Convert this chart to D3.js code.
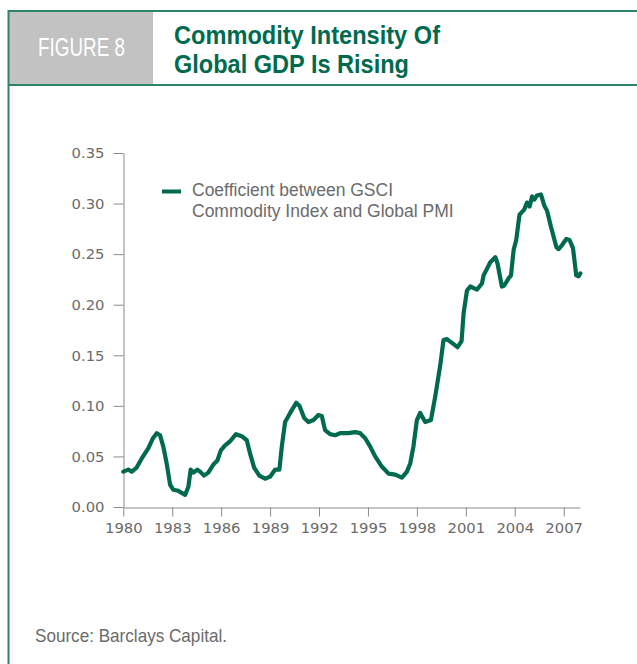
<!DOCTYPE html>
<html>
<head>
<meta charset="utf-8">
<script src="https://cdn.jsdelivr.net/npm/d3@7"></script>
<style>
  html, body { margin: 0; padding: 0; background: #fff; }
  svg { display: block; }
</style>
</head>
<body>
<svg id="chart" width="637" height="664"></svg>
<script>
// Coefficient between GSCI Commodity Index and Global PMI, 1980–2008
const years = [
  1980.00, 1980.31, 1980.52, 1980.82, 1981.13, 1981.53, 1981.82, 1982.05, 1982.25, 1982.45,
  1982.66, 1982.87, 1983.07, 1983.37, 1983.58, 1983.79, 1983.99, 1984.13, 1984.29, 1984.54,
  1984.71, 1984.95, 1985.21, 1985.52, 1985.77, 1985.98, 1986.24, 1986.55, 1986.91, 1987.26,
  1987.57, 1987.77, 1988.02, 1988.34, 1988.69, 1989.00, 1989.31, 1989.57, 1989.72, 1989.92,
  1990.23, 1990.60, 1990.80, 1991.09, 1991.35, 1991.66, 1991.96, 1992.17, 1992.37, 1992.68,
  1992.99, 1993.30, 1993.80, 1994.21, 1994.52, 1994.83, 1995.13, 1995.44, 1995.85, 1996.26,
  1996.67, 1997.08, 1997.39, 1997.59, 1997.79, 1998.00, 1998.20, 1998.51, 1998.86, 1999.12,
  1999.43, 1999.63, 1999.84, 2000.25, 2000.49, 2000.74, 2000.86, 2001.07, 2001.27, 2001.68,
  2001.99, 2002.09, 2002.50, 2002.81, 2002.94, 2003.21, 2003.36, 2003.62, 2003.77, 2003.93,
  2004.09, 2004.29, 2004.58, 2004.75, 2004.91, 2005.06, 2005.20, 2005.36, 2005.61, 2005.81,
  2005.98, 2006.22, 2006.55, 2006.69, 2006.90, 2007.16, 2007.36, 2007.57, 2007.77, 2007.91,
  2008.02
];
const coefficient = [
  0.035, 0.037, 0.035, 0.039, 0.048, 0.058, 0.068, 0.073, 0.071, 0.060,
  0.043, 0.022, 0.017, 0.016, 0.014, 0.012, 0.020, 0.037, 0.034, 0.037,
  0.035, 0.031, 0.034, 0.042, 0.046, 0.056, 0.061, 0.065, 0.072, 0.070,
  0.066, 0.053, 0.039, 0.031, 0.028, 0.030, 0.037, 0.037, 0.060, 0.084,
  0.093, 0.103, 0.100, 0.088, 0.084, 0.086, 0.091, 0.090, 0.076, 0.072,
  0.071, 0.073, 0.073, 0.074, 0.073, 0.068, 0.060, 0.050, 0.040, 0.033,
  0.032, 0.029, 0.035, 0.043, 0.060, 0.086, 0.093, 0.084, 0.086, 0.109,
  0.140, 0.165, 0.166, 0.161, 0.158, 0.164, 0.191, 0.214, 0.218, 0.215,
  0.221, 0.229, 0.242, 0.247, 0.241, 0.218, 0.219, 0.226, 0.229, 0.254,
  0.264, 0.289, 0.294, 0.301, 0.297, 0.307, 0.304, 0.308, 0.309, 0.298,
  0.293, 0.277, 0.257, 0.255, 0.259, 0.265, 0.264, 0.256, 0.229, 0.228,
  0.231
];
const yTicks = [0, 0.05, 0.10, 0.15, 0.20, 0.25, 0.30, 0.35];
const xTicks = [1980, 1983, 1986, 1989, 1992, 1995, 1998, 2001, 2004, 2007];
const titleLines = ["Commodity Intensity Of", "Global GDP Is Rising"];
const figureLabel = "FIGURE 8";
const legendLines = ["Coefficient between GSCI", "Commodity Index and Global PMI"];
const sourceText = "Source: Barclays Capital.";

const GREEN = "#006a4e";
const FRAME = "#2f8466";
const GREY_TEXT = "#6b6b6b";
const AXIS = "#8a8a8a";
const SANS = "'Liberation Sans', Arial, sans-serif";
const TICKFONT = "'DejaVu Sans', Verdana, sans-serif";

const svg = d3.select("#chart");

// Panel frame and header
svg.append("rect").attr("x", 8).attr("y", 11).attr("width", 145).attr("height", 73).attr("fill", "#c2c2c2");
svg.append("line").attr("x1", 8).attr("x2", 637).attr("y1", 11).attr("y2", 11)
  .attr("stroke", FRAME).attr("stroke-width", 2);
svg.append("line").attr("x1", 8).attr("x2", 637).attr("y1", 85).attr("y2", 85)
  .attr("stroke", FRAME).attr("stroke-width", 2);
svg.append("line").attr("x1", 8.5).attr("x2", 8.5).attr("y1", 10).attr("y2", 664)
  .attr("stroke", FRAME).attr("stroke-width", 2);

// Condensed header type: regular sans squeezed to the header widths
svg.append("text").attr("x", 38).attr("y", 56)
  .attr("font-family", SANS).attr("font-size", 26).attr("fill", "#fff")
  .attr("textLength", 87).attr("lengthAdjust", "spacingAndGlyphs")
  .text(figureLabel);

const titleWidths = [266, 235];
svg.append("g").selectAll("text").data(titleLines).join("text")
  .attr("x", 174).attr("y", (d, i) => 44 + i * 29)
  .attr("font-family", SANS).attr("font-weight", "bold").attr("font-size", 26)
  .attr("fill", GREEN)
  .attr("textLength", (d, i) => titleWidths[i]).attr("lengthAdjust", "spacingAndGlyphs")
  .text(d => d);

// Scales
const x = d3.scaleLinear().domain([1980, 2008]).range([123.3, 580]);
const y = d3.scaleLinear().domain([0, 0.35]).range([507, 153]);

// Y axis
const yAxis = svg.append("g").attr("transform", "translate(123.5,0)")
  .call(d3.axisLeft(y).tickValues(yTicks).tickFormat(d3.format(".2f"))
    .tickSize(10).tickSizeOuter(0).tickPadding(9));
// X axis
const xAxis = svg.append("g").attr("transform", "translate(0,507.5)")
  .call(d3.axisBottom(x).tickValues(xTicks).tickFormat(d3.format("d"))
    .tickSize(9).tickSizeOuter(0).tickPadding(6));

[yAxis, xAxis].forEach(g => {
  g.select(".domain").attr("stroke", AXIS);
  g.selectAll(".tick line").attr("stroke", AXIS);
  g.selectAll(".tick text").attr("fill", GREY_TEXT)
    .attr("font-family", TICKFONT).attr("font-size", 14.8);
});

// Series line
const line = d3.line()
  .x((d, i) => x(years[i]))
  .y(d => y(d))
  .curve(d3.curveLinear);

svg.append("path")
  .datum(coefficient)
  .attr("d", line)
  .attr("fill", "none")
  .attr("stroke", GREEN)
  .attr("stroke-width", 4.2)
  .attr("stroke-linejoin", "round")
  .attr("stroke-linecap", "round");

// Legend
svg.append("line").attr("x1", 162).attr("x2", 181).attr("y1", 191.5).attr("y2", 191.5)
  .attr("stroke", GREEN).attr("stroke-width", 4);
svg.append("g").selectAll("text").data(legendLines).join("text")
  .attr("x", 192).attr("y", (d, i) => 196 + i * 21)
  .attr("font-family", SANS).attr("font-size", 17.5).attr("fill", GREY_TEXT)
  .text(d => d);

// Source note
svg.append("text").attr("x", 35).attr("y", 642)
  .attr("font-family", SANS).attr("font-size", 18.5).attr("fill", GREY_TEXT)
  .attr("textLength", 192).attr("lengthAdjust", "spacingAndGlyphs")
  .text(sourceText);
</script>
</body>
</html>
